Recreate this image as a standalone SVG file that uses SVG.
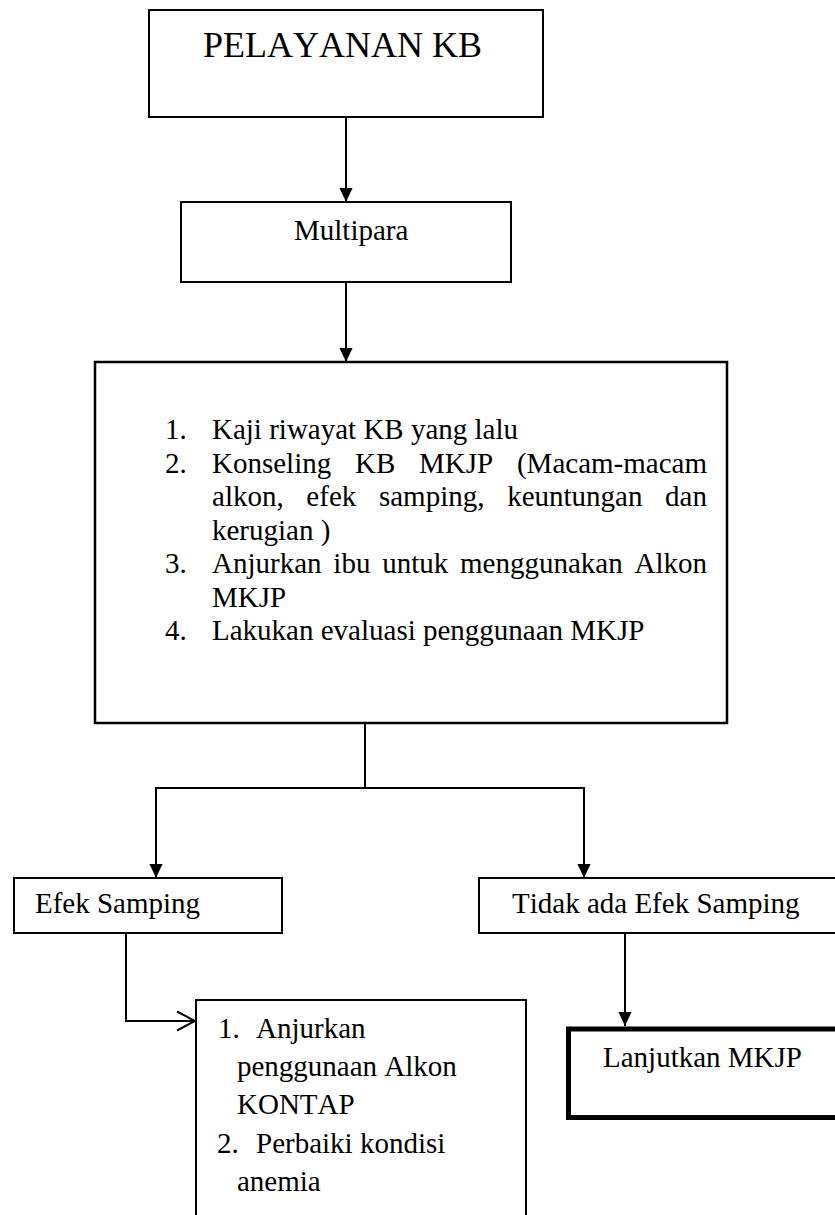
<svg xmlns="http://www.w3.org/2000/svg" width="835" height="1215" viewBox="0 0 835 1215">
<style>
text{font-family:"Liberation Serif","Times New Roman",serif;font-size:29px;fill:#000;font-kerning:none}
.box{fill:#fff;stroke:#000;stroke-width:2}
.thick{fill:#fff;stroke:#000;stroke-width:5}
.ln{fill:none;stroke:#000;stroke-width:2}
</style>
<defs>
<marker id="arr" markerUnits="userSpaceOnUse" markerWidth="14" markerHeight="15" viewBox="0 0 15 14" refX="15" refY="7" orient="auto"><path d="M0,0 L15,7 L0,14 z" fill="#000"/></marker>
<marker id="open" markerUnits="userSpaceOnUse" markerWidth="20" markerHeight="22" viewBox="0 0 20 22" refX="19" refY="11" orient="auto"><path d="M1,1.5 L19,11 L1,20.5" fill="none" stroke="#000" stroke-width="2"/></marker>
</defs>
<g id="connectors">
<path class="ln" d="M346,117 V202" marker-end="url(#arr)"/>
<path class="ln" d="M346,282 V362" marker-end="url(#arr)"/>
<path class="ln" d="M365,723 V788"/>
<path class="ln" d="M155,788 H585"/>
<path class="ln" d="M156,788 V878" marker-end="url(#arr)"/>
<path class="ln" d="M584,788 V878" marker-end="url(#arr)"/>
<path class="ln" d="M126,933 V1021 H195" marker-end="url(#open)"/>
<path class="ln" d="M625,933 V1026" marker-end="url(#arr)"/>
</g>
<g id="pelayanan">
<rect class="box" x="149" y="10" width="394" height="107"/>
<text x="203" y="57" style="font-size:36px">PELAYANAN KB</text>
</g>
<g id="multipara">
<rect class="box" x="181" y="202" width="330" height="80"/>
<text x="294" y="240">Multipara</text>
</g>
<g id="langkah">
<rect class="box" x="95" y="362" width="632" height="361" style="stroke-width:2.5"/>
<text x="165" y="439">1.</text><text x="212" y="439">Kaji riwayat KB yang lalu</text>
<text x="165" y="472.5">2.</text><text x="212" y="472.5" word-spacing="16.5" textLength="495" lengthAdjust="spacing">Konseling KB MKJP (Macam-macam</text>
<text x="212" y="506" word-spacing="15.4" textLength="495" lengthAdjust="spacing">alkon, efek samping, keuntungan dan</text>
<text x="212" y="539.5">kerugian )</text>
<text x="165" y="573">3.</text><text x="212" y="573" word-spacing="4.5" textLength="495" lengthAdjust="spacing">Anjurkan ibu untuk menggunakan Alkon</text>
<text x="212" y="606.5">MKJP</text>
<text x="165" y="640">4.</text><text x="212" y="640">Lakukan evaluasi penggunaan MKJP</text>
</g>
<g id="efek">
<rect class="box" x="14" y="878" width="268" height="55"/>
<text x="35" y="913">Efek Samping</text>
</g>
<g id="tidak">
<rect class="box" x="479" y="878" width="370" height="55"/>
<text x="512" y="913">Tidak ada Efek Samping</text>
</g>
<g id="anjuran">
<rect class="box" x="196" y="1000" width="330" height="230"/>
<text x="218" y="1038">1.</text><text x="256" y="1038">Anjurkan</text>
<text x="237" y="1076">penggunaan Alkon</text>
<text x="237" y="1114">KONTAP</text>
<text x="217" y="1153">2.</text><text x="256" y="1153">Perbaiki kondisi</text>
<text x="237" y="1191">anemia</text>
</g>
<g id="lanjutkan">
<rect class="thick" x="568.5" y="1029" width="290" height="88.5"/>
<text x="603" y="1067">Lanjutkan MKJP</text>
</g>
</svg>
